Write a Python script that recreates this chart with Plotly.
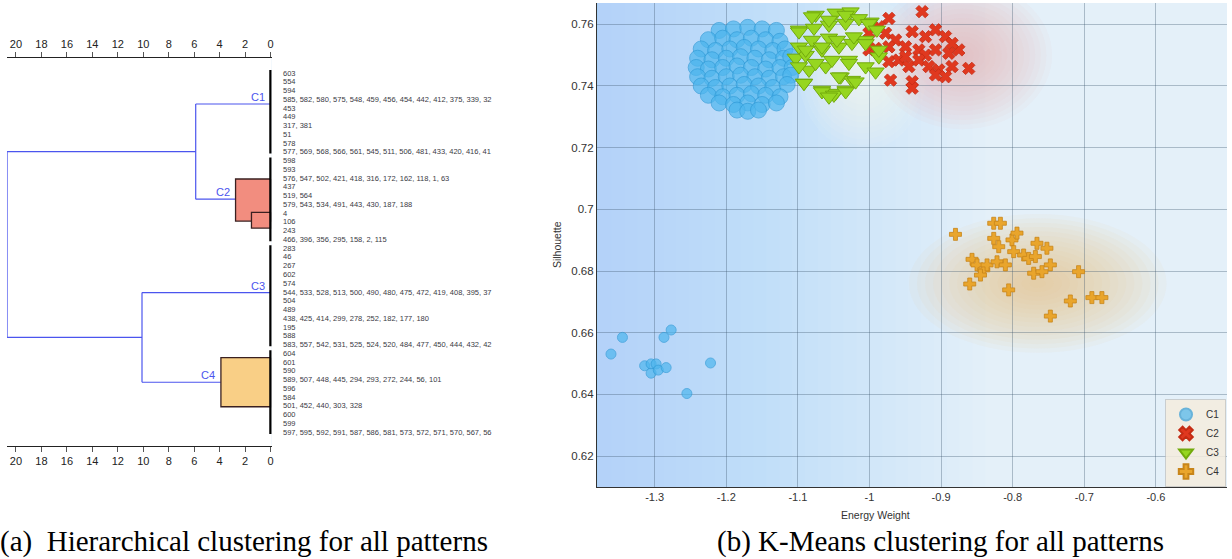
import plotly.graph_objects as go

W, H = 1232, 559

# ---------------- Dendrogram data ----------------
leaf_labels = [
    "603", "554", "594", "585, 582, 580, 575, 548, 459, 456, 454, 442, 412, 375, 339, 32",
    "453", "449", "317, 381", "51", "578", "577, 569, 568, 566, 561, 545, 511, 506, 481, 433, 420, 416, 41",
    "598", "593", "576, 547, 502, 421, 418, 316, 172, 162, 118, 1, 63", "437", "519, 564",
    "579, 543, 534, 491, 443, 430, 187, 188", "4", "106", "243", "466, 396, 356, 295, 158, 2, 115",
    "283", "46", "267", "602", "574", "544, 533, 528, 513, 500, 490, 480, 475, 472, 419, 408, 395, 37",
    "504", "489", "438, 425, 414, 299, 278, 252, 182, 177, 180", "195", "588",
    "583, 557, 542, 531, 525, 524, 520, 484, 477, 450, 444, 432, 42",
    "604", "601", "590", "589, 507, 448, 445, 294, 293, 272, 244, 56, 101", "596", "584",
    "501, 452, 440, 303, 328", "600", "599",
    "597, 595, 592, 591, 587, 586, 581, 573, 572, 571, 570, 567, 56",
]
cluster_names = ["C1", "C2", "C3", "C4"]
cluster_leaf_counts = [10, 10, 12, 10]
branch_rows = [4.54, 15.4, 26.07, 36.3]      # leaf-row position where each cluster branch attaches
branch_end = [0.0, 2.75, 0.0, 3.9]          # distance where each branch meets its cluster block
merge_pairs = [(0, 1), (2, 3)]
merge_dist = [5.88, 10.1]
root_dist = 20.7
# sub-cluster blocks: (cluster, distance, first row, last row)
block_cluster = [1, 1, 3]
block_dist = [2.75, 1.5, 3.9]
block_row0 = [13.1, 16.9, 33.5]
block_row1 = [17.9, 18.7, 39.1]
dist_ticks = [0, 2, 4, 6, 8, 10, 12, 14, 16, 18, 20]

# ---------------- K-Means scatter data ----------------
c1_x = [-1.21, -1.19, -1.17, -1.15, -1.13,
        -1.225, -1.205, -1.185, -1.165, -1.145, -1.125,
        -1.235, -1.215, -1.195, -1.175, -1.155, -1.135, -1.118,
        -1.24, -1.22, -1.20, -1.18, -1.16, -1.14, -1.12, -1.11,
        -1.242, -1.225, -1.205, -1.185, -1.165, -1.145, -1.125, -1.108,
        -1.24, -1.22, -1.20, -1.18, -1.16, -1.14, -1.12, -1.11,
        -1.235, -1.215, -1.195, -1.175, -1.155, -1.135, -1.115,
        -1.225, -1.205, -1.185, -1.165, -1.145, -1.125,
        -1.21, -1.19, -1.17, -1.15, -1.13,
        -1.185, -1.17, -1.155,
        -1.345, -1.361, -1.277, -1.287, -1.314, -1.305, -1.298, -1.305, -1.295, -1.284, -1.222, -1.255]
c1_y = [0.758, 0.7585, 0.759, 0.7585, 0.758,
        0.755, 0.7555, 0.755, 0.7555, 0.755, 0.7545,
        0.752, 0.7515, 0.752, 0.7525, 0.752, 0.7515, 0.752,
        0.749, 0.7485, 0.749, 0.7495, 0.749, 0.7485, 0.749, 0.7495,
        0.746, 0.7455, 0.746, 0.7465, 0.746, 0.7455, 0.746, 0.746,
        0.743, 0.7425, 0.743, 0.7435, 0.743, 0.7425, 0.743, 0.7435,
        0.740, 0.7395, 0.740, 0.7405, 0.740, 0.7395, 0.7405,
        0.737, 0.7365, 0.737, 0.7375, 0.737, 0.7365,
        0.7345, 0.734, 0.7345, 0.734, 0.7345,
        0.7322, 0.7318, 0.7322,
        0.6585, 0.6531, 0.6609, 0.6585, 0.6493, 0.6499, 0.6499, 0.6469, 0.6479, 0.6487, 0.6502, 0.6403]

c2_x = [-0.9265, -0.9729, -0.9869, -1.0008, -0.9776, -0.9636, -0.9404, -0.9078, -0.8939,
        -1.0008, -0.9915, -0.9729, -0.9497, -0.9311, -0.9218, -0.9078, -0.8893, -0.8753,
        -0.9729, -0.9590, -0.9450, -0.9311, -0.9171, -0.9032, -0.8847, -0.8614,
        -0.9706, -0.9404, -0.9404, -0.9078, -0.8939, -0.9218, -0.9497, -0.8847]
c2_y = [0.7641, 0.7619, 0.7592, 0.7571, 0.7571, 0.7549, 0.7576, 0.7582, 0.7560,
        0.7517, 0.7522, 0.7527, 0.7527, 0.7517, 0.7500, 0.7517, 0.7506, 0.7517,
        0.7479, 0.7484, 0.7463, 0.7484, 0.7463, 0.7452, 0.7463, 0.7457,
        0.7419, 0.7414, 0.7393, 0.7436, 0.7430, 0.7560, 0.7495, 0.7538]

c3_x = [-1.0752, -1.0473, -1.0264, -1.0985, -1.0775, -1.0566, -1.0333, -0.9985,
        -1.1031, -1.0891, -1.0664, -1.0427, -1.0245, -1.0054, -1.0915, -1.0664,
        -1.0473, -1.0333, -1.0403, -1.0245, -1.0054, -0.9869, -1.0845, -1.0612,
        -1.0287, -1.0803, -1.0566, -1.0985, -1.0985, -1.0803, -1.0566, -1.0333,
        -1.0148, -1.0008, -0.9897, -1.0891, -1.0664, -1.0455, -1.0218, -1.0054,
        -0.9869, -1.0985, -1.0752, -1.0524, -1.0287, -0.9915, -1.0915, -1.0427,
        -1.0194, -1.0664, -1.0497, -1.0333, -1.0566]
c3_y = [0.7630, 0.7637, 0.7641, 0.7582, 0.7588, 0.7598, 0.7604, 0.7608,
        0.7491, 0.7500, 0.7517, 0.7527, 0.7539, 0.7549, 0.7410, 0.7387,
        0.7377, 0.7387, 0.7430, 0.7419, 0.7463, 0.7495, 0.7452, 0.7463,
        0.7484, 0.7549, 0.7556, 0.7527, 0.7576, 0.7625, 0.7614, 0.7630,
        0.7619, 0.7603, 0.7582, 0.7517, 0.7527, 0.7549, 0.7560, 0.7538,
        0.7517, 0.7463, 0.7474, 0.7484, 0.7474, 0.7446, 0.7409, 0.7430,
        0.7414, 0.7382, 0.7371, 0.7382, 0.7365]

c4_x = [-0.8799, -0.8265, -0.8172, -0.8265, -0.8195, -0.8010, -0.7940, -0.7986, -0.7847,
        -0.7777, -0.7683, -0.7661, -0.7522, -0.8568, -0.8498, -0.8404, -0.8358, -0.8450,
        -0.8219, -0.8102, -0.7474, -0.7707, -0.7591, -0.7080, -0.8600, -0.8056, -0.7195,
        -0.6894, -0.6754, -0.7474]
c4_y = [0.6919, 0.6955, 0.6955, 0.6906, 0.6879, 0.6901, 0.6923, 0.6863, 0.6852,
        0.6841, 0.6847, 0.6890, 0.6874, 0.6838, 0.6820, 0.6804, 0.6820, 0.6787,
        0.6830, 0.6820, 0.6820, 0.6793, 0.6798, 0.6798, 0.6758, 0.6739, 0.6703,
        0.6714, 0.6714, 0.6654]

x_ticks = [-1.3, -1.2, -1.1, -1.0, -0.9, -0.8, -0.7, -0.6]
x_tick_text = ["-1.3", "-1.2", "-1.1", "-1", "-0.9", "-0.8", "-0.7", "-0.6"]
y_ticks = [0.62, 0.64, 0.66, 0.68, 0.70, 0.72, 0.74, 0.76]
y_tick_text = ["0.62", "0.64", "0.66", "0.68", "0.7", "0.72", "0.74", "0.76"]

# ---------------- figure ----------------
BLUE = "#4b55ee"
FONT = "Liberation Sans"
fig = go.Figure()

# dendrogram axis mapping: 0 at px 271, 12.75 px per unit; rows: 8.76 px per row, row1 at py 73
dx0 = (271 - 7) / 12.75
dx1 = (271 - 272) / 12.75
ry0 = 1 + (58 - 73) / 8.76
ry1 = 1 + (446 - 73) / 8.76

starts = []
s = 1
for n in cluster_leaf_counts:
    starts.append(s)
    s += n

# dendrogram branch lines
lx, ly = [], []
mid_rows = []
for (a, b), d in zip(merge_pairs, merge_dist):
    mid = (branch_rows[a] + branch_rows[b]) / 2
    mid_rows.append(mid)
    lx += [root_dist, d, None, d, d, None, d, branch_end[a], None, d, branch_end[b], None]
    ly += [mid, mid, None, branch_rows[a], branch_rows[b], None,
           branch_rows[a], branch_rows[a], None, branch_rows[b], branch_rows[b], None]
lx += [root_dist, root_dist]
ly += [mid_rows[0], mid_rows[1]]
fig.add_trace(go.Scatter(x=lx, y=ly, mode="lines", line=dict(color=BLUE, width=1.2),
                         showlegend=False, hoverinfo="skip", xaxis="x", yaxis="y"))

# sub-cluster blocks
block_fill = {1: "#f28d7f", 3: "#f9cf86"}
for c, d, r0, r1 in zip(block_cluster, block_dist, block_row0, block_row1):
    fig.add_trace(go.Scatter(x=[0, d, d, 0, 0], y=[r0, r0, r1, r1, r0], mode="lines",
                             fill="toself", fillcolor=block_fill[c],
                             line=dict(color="#3a2020", width=1.3),
                             showlegend=False, hoverinfo="skip", xaxis="x", yaxis="y"))

# black cluster bars
bx, by = [], []
for st, n in zip(starts, cluster_leaf_counts):
    bx += [0, 0, None]
    by += [st - 0.35, st + n - 1 + 0.2, None]
fig.add_trace(go.Scatter(x=bx, y=by, mode="lines", line=dict(color="black", width=2.6),
                         showlegend=False, hoverinfo="skip", xaxis="x", yaxis="y"))

annotations = []
for i, lab in enumerate(leaf_labels):
    annotations.append(dict(x=281 / W, y=i + 1, xref="paper", yref="y", text=lab, showarrow=False,
                            xanchor="left", yanchor="middle",
                            font=dict(family=FONT, size=7.5, color="#3a3a44")))
for name, r, e in zip(cluster_names, branch_rows, branch_end):
    annotations.append(dict(x=e + 0.3, y=r, xref="x", yref="y", text=name, showarrow=False,
                            xanchor="right", yanchor="middle", yshift=7,
                            font=dict(family=FONT, size=11, color=BLUE)))

# ---------------- scatter ----------------
fig.add_trace(go.Scatter(x=c1_x, y=c1_y, mode="markers", name="C1", xaxis="x2", yaxis="y2",
                         marker=dict(symbol="circle", color="#4db6ee",
                                     size=[16 if v > 0.7 else 10 for v in c1_y],
                                     line=dict(color="#2f9bd8", width=1))))
fig.add_trace(go.Scatter(x=c2_x, y=c2_y, mode="markers", name="C2", xaxis="x2", yaxis="y2",
                         marker=dict(symbol="x", color="#e0381f", size=11,
                                     line=dict(color="#c42c14", width=0.8))))
fig.add_trace(go.Scatter(x=c3_x, y=c3_y, mode="markers", name="C3", xaxis="x2", yaxis="y2",
                         marker=dict(symbol="triangle-down", color="#96d620", size=15,
                                     line=dict(color="#72aa0c", width=1))))
fig.add_trace(go.Scatter(x=c4_x, y=c4_y, mode="markers", name="C4", xaxis="x2", yaxis="y2",
                         marker=dict(symbol="cross", color="#e9a52c", size=10,
                                     line=dict(color="#c8851a", width=0.8))))

# soft background
XMIN, XMAX = -1.3805, -0.5007
YMIN, YMAX = 0.61, 0.7669
shapes = [dict(type="rect", xref="x", yref="y", x0=dx0, x1=dx1, y0=ry0, y1=ry1,
               fillcolor="white", line=dict(width=0), layer="below")]
n_steps = 30
for k in range(n_steps):
    x1 = -1.36 + k * 0.018
    shapes.append(dict(type="rect", xref="x2", yref="y2", x0=XMIN, x1=x1, y0=YMIN, y1=YMAX,
                       fillcolor="rgb(125,190,238)", opacity=0.014, line=dict(width=0),
                       layer="below"))


def halo(cx, cy, rx, ry, color, n, op):
    for k in range(n):
        f = 1 - k / n
        shapes.append(dict(type="circle", xref="x2", yref="y2",
                           x0=cx - rx * f, x1=cx + rx * f, y0=cy - ry * f, y1=cy + ry * f,
                           fillcolor=color, opacity=op, line=dict(width=0), layer="below"))


halo(-1.01, 0.745, 0.09, 0.026, "rgb(250,252,236)", 14, 0.07)
halo(-0.87, 0.750, 0.125, 0.024, "rgb(246,178,178)", 16, 0.065)
halo(-0.765, 0.676, 0.18, 0.0225, "rgb(240,196,132)", 16, 0.065)

annotations += [
    dict(x=913 / W, y=1 - 515 / H, xref="paper", yref="paper", text="Energy Weight", showarrow=False,
         yanchor="middle", font=dict(family=FONT, size=10.5, color="#333")),
    dict(x=558 / W, y=1 - 245 / H, xref="paper", yref="paper", text="Silhouette", showarrow=False,
         textangle=-90, font=dict(family=FONT, size=10.5, color="#333")),
    dict(x=-2 / W, y=1 - 541 / H, xref="paper", yref="paper", xanchor="left", yanchor="middle",
         text="(a)  Hierarchical clustering for all patterns", showarrow=False,
         font=dict(family="Liberation Serif", size=29, color="black")),
    dict(x=942 / W, y=1 - 541 / H, xref="paper", yref="paper", xanchor="center", yanchor="middle",
         text="(b) K-Means clustering for all patterns", showarrow=False,
         font=dict(family="Liberation Serif", size=29, color="black")),
]

axis_font = dict(family=FONT, size=11, color="#222")
fig.update_layout(
    width=W, height=H, margin=dict(l=0, r=0, t=0, b=0),
    paper_bgcolor="white", plot_bgcolor="#e4f0f9",
    xaxis=dict(domain=[7 / W, 272 / W], range=[dx0, dx1], anchor="y",
               tickvals=dist_ticks, ticks="outside", ticklen=5, tickcolor="#555",
               showline=True, linecolor="#222", linewidth=1, showgrid=False, zeroline=False,
               tickfont=axis_font, fixedrange=True),
    xaxis3=dict(matches="x", overlaying="x", side="top", anchor="y",
                tickvals=dist_ticks, ticks="outside", ticklen=5, tickcolor="#555",
                showline=True, linecolor="#222", linewidth=1, showgrid=False, zeroline=False,
                tickfont=axis_font),
    yaxis=dict(domain=[1 - 446 / H, 1 - 58 / H], range=[ry1, ry0], anchor="x",
               visible=False, showgrid=False, zeroline=False),
    xaxis2=dict(domain=[598 / W, 1229 / W], range=[XMIN, XMAX], anchor="y2",
                tickvals=x_ticks, ticktext=x_tick_text, showgrid=True,
                gridcolor="rgba(60,85,110,0.35)", gridwidth=1, zeroline=False,
                showline=True, linecolor="#333", linewidth=1.2, ticks="",
                tickfont=dict(family=FONT, size=11, color="#333")),
    yaxis2=dict(domain=[1 - 487 / H, 1 - 3 / H], range=[YMIN, YMAX], anchor="x2",
                tickvals=y_ticks, ticktext=y_tick_text, showgrid=True,
                gridcolor="rgba(60,85,110,0.35)", gridwidth=1, zeroline=False,
                showline=True, linecolor="#333", linewidth=1.2, ticks="",
                tickfont=dict(family=FONT, size=11.5, color="#333")),
    legend=dict(x=1228 / W, y=1 - 487 / H, xanchor="right", yanchor="bottom",
                bgcolor="rgba(245,236,222,0.85)", bordercolor="rgba(190,190,190,0.7)",
                borderwidth=1, font=dict(family=FONT, size=10, color="#333"),
                itemsizing="constant", itemwidth=30, tracegroupgap=4),
    annotations=annotations,
    shapes=shapes,
)
# invisible trace to activate the top distance axis
fig.add_trace(go.Scatter(x=[10], y=[20], xaxis="x3", yaxis="y", mode="markers",
                         marker=dict(opacity=0), showlegend=False, hoverinfo="skip"))

fig.write_html("out.html", config={"displayModeBar": False},
               post_script="document.body.style.margin='0px';")
